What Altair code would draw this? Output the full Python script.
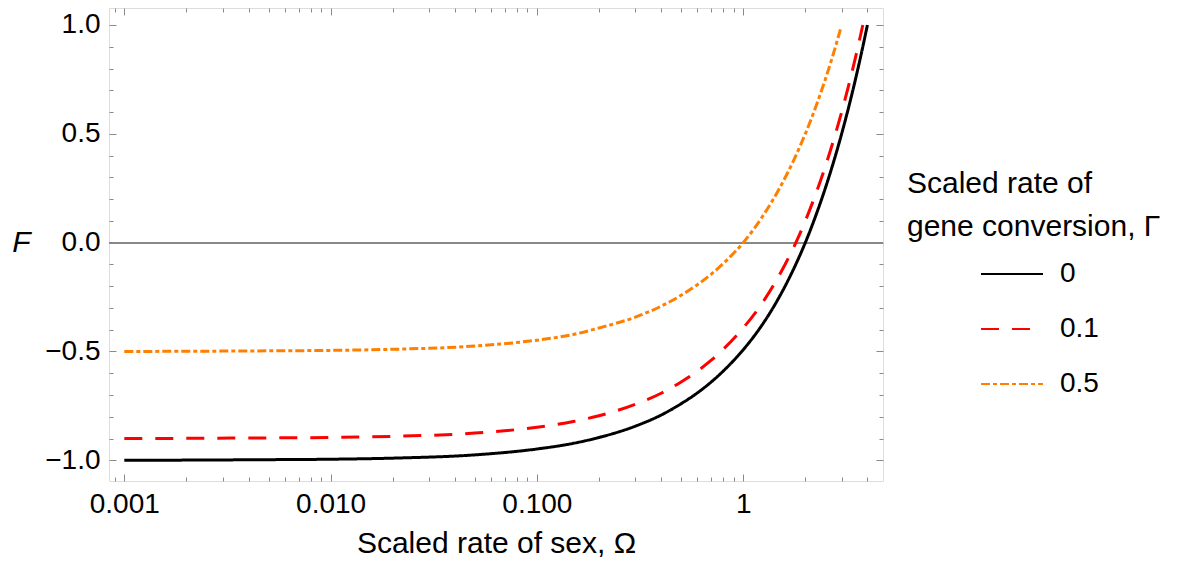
import altair as alt
import pandas as pd

# ---- data ----
omega_g0 = [0.001, 0.002, 0.005, 0.01, 0.02, 0.05, 0.1, 0.15, 0.2, 0.3, 0.4, 0.5, 0.6, 0.7, 0.8,
            1.0, 1.2, 1.4, 1.6, 1.8, 2.0, 2.25, 2.5, 2.75, 3.0, 3.25, 3.5, 3.75, 4.0]
F_g0 = [-1.0, -0.999, -0.997, -0.995, -0.99, -0.975, -0.948, -0.922, -0.895, -0.843, -0.792, -0.740,
        -0.690, -0.640, -0.590, -0.492, -0.395, -0.297, -0.198, -0.099, 0.0, 0.125, 0.25, 0.375,
        0.5, 0.625, 0.75, 0.875, 1.0]

omega_g01 = [0.001, 0.002, 0.005, 0.01, 0.02, 0.05, 0.1, 0.15, 0.2, 0.3, 0.4, 0.5, 0.6, 0.7, 0.8,
             1.0, 1.2, 1.4, 1.6, 1.8, 2.0, 2.25, 2.5, 2.75, 3.0, 3.25, 3.5, 3.8]
F_g01 = [-0.90, -0.899, -0.897, -0.895, -0.89, -0.875, -0.848, -0.822, -0.795, -0.743, -0.692, -0.640,
         -0.590, -0.540, -0.490, -0.392, -0.295, -0.197, -0.098, 0.0, 0.10, 0.225, 0.35, 0.475,
         0.60, 0.725, 0.85, 1.0]

omega_g05 = [0.001, 0.002, 0.005, 0.01, 0.02, 0.05, 0.1, 0.15, 0.2, 0.3, 0.4, 0.5, 0.6, 0.7, 0.8,
             1.0, 1.25, 1.5, 1.75, 2.0, 2.25, 2.5, 2.75, 2.96]
F_g05 = [-0.50, -0.499, -0.497, -0.495, -0.49, -0.475, -0.448, -0.422, -0.392, -0.342, -0.292, -0.242,
         -0.193, -0.145, -0.096, 0.0, 0.125, 0.25, 0.375, 0.5, 0.625, 0.75, 0.875, 0.98]

gamma_labels = ["0", "0.1", "0.5"]
line_colors = ["#000000", "#ff0000", "#ff8000"]
line_dashes = [[1, 0], [18, 13], [9, 3, 4, 3]]

x_major = [0.001, 0.01, 0.1, 1]
x_minor = [0.0009] + [k * 0.001 for k in range(2, 10)] + [k * 0.01 for k in range(2, 10)] \
          + [k * 0.1 for k in range(2, 10)] + [2, 3, 4]
y_major = [-1.0, -0.5, 0.0, 0.5, 1.0]
y_minor = [-0.9, -0.8, -0.7, -0.6, -0.4, -0.3, -0.2, -0.1, 0.1, 0.2, 0.3, 0.4, 0.6, 0.7, 0.8, 0.9]

x_title = "Scaled rate of sex, Ω"
y_title = "F"
legend_title = ["Scaled rate of", "gene conversion, Γ"]

# ---- table ----
rows = []
for g, xs, ys in zip(gamma_labels, [omega_g0, omega_g01, omega_g05], [F_g0, F_g01, F_g05]):
    for xv, yv in zip(xs, ys):
        rows.append({"omega": xv, "F": yv, "gamma": g})
df = pd.DataFrame(rows)

FONT = "Liberation Sans"
FS = 28
TFS = 30
GRAY = "#8a8a8a"
W, H = 774, 473

xscale = alt.Scale(type="log", domain=[0.000843, 4.76], nice=False)
yscale = alt.Scale(domain=[-1.095, 1.078], nice=False, zero=False)

main_x_axis = alt.Axis(values=x_major, labelExpr="datum.value >= 1 ? '1' : format(datum.value, '.3f')",
                       ticks=False, domain=False, grid=False, labelFontSize=FS, labelFont=FONT,
                       labelColor="black", labelPadding=9, labelFlush=False, labelOverlap=False,
                       title=x_title, titleFont=FONT, titleFontSize=TFS, titleFontWeight="normal",
                       titleColor="black", titleBaseline="alphabetic", titleY=71, titleAnchor="middle")
main_y_axis = alt.Axis(values=y_major, format=".1f", ticks=False, domain=False, grid=False,
                       labelFontSize=FS, labelFont=FONT, labelColor="black", labelPadding=9,
                       labelFlush=False, labelOverlap=False,
                       title=y_title, titleFont=FONT, titleFontSize=TFS, titleFontWeight="normal",
                       titleFontStyle="italic", titleColor="black", titleAngle=0,
                       titleAlign="center", titleBaseline="middle", titleX=-88, titleY=234)

legend = alt.Legend(orient="none", legendX=798, legendY=161, title=legend_title,
                    titleFont=FONT, titleFontSize=TFS, titleFontWeight="normal", titleColor="black",
                    titleLineHeight=43, titlePadding=0, titleLimit=500, titleAnchor="start",
                    labelFont=FONT, labelFontSize=FS, labelColor="black", labelOffset=16,
                    symbolType="stroke", symbolSize=3844, symbolStrokeWidth=2,
                    symbolOffset=73, rowPadding=9)

lines = alt.Chart(df).mark_line(strokeWidth=3, interpolate="monotone", clip=True).encode(
    x=alt.X("omega:Q", scale=xscale, axis=main_x_axis),
    y=alt.Y("F:Q", scale=yscale, axis=main_y_axis),
    color=alt.Color("gamma:N", sort=gamma_labels,
                    scale=alt.Scale(domain=gamma_labels, range=line_colors), legend=legend),
    strokeDash=alt.StrokeDash("gamma:N", sort=gamma_labels,
                              scale=alt.Scale(domain=gamma_labels, range=line_dashes), legend=legend),
    detail="gamma:N",
)

zero = alt.Chart(df).mark_rule(color=GRAY, strokeWidth=1).encode(
    y=alt.Y(datum=0, scale=yscale, axis=None)
)


def tick_axis(orient, values, size):
    return alt.Axis(orient=orient, values=values, tickSize=size, offset=-size, labels=False,
                    domain=False, grid=False, title=None, ticks=True, tickColor=GRAY, tickWidth=1)


def tick_layer(xo, xv, xs, yo, yv, ys):
    return alt.Chart(df).mark_point(opacity=0).encode(
        x=alt.X("omega:Q", scale=xscale, axis=tick_axis(xo, xv, xs)),
        y=alt.Y("F:Q", scale=yscale, axis=tick_axis(yo, yv, ys)),
    )


t1 = tick_layer("bottom", x_major, 7, "left", y_major, 7)
t2 = tick_layer("bottom", x_minor, 4, "left", y_minor, 4)
t3 = tick_layer("top", x_major, 7, "right", y_major, 7)
t4 = tick_layer("top", x_minor, 4, "right", y_minor, 4)

chart = alt.layer(zero, lines, t1, t2, t3, t4).resolve_axis(
    x="independent", y="independent"
).properties(
    width=W, height=H,
    autosize=alt.AutoSizeParams(type="none"),
    padding={"left": 101, "top": 0, "right": 295, "bottom": 77},
).configure_view(stroke=GRAY, strokeWidth=1).configure(background="white")

chart.save("out.html", embed_options={"renderer": "svg", "actions": False})
